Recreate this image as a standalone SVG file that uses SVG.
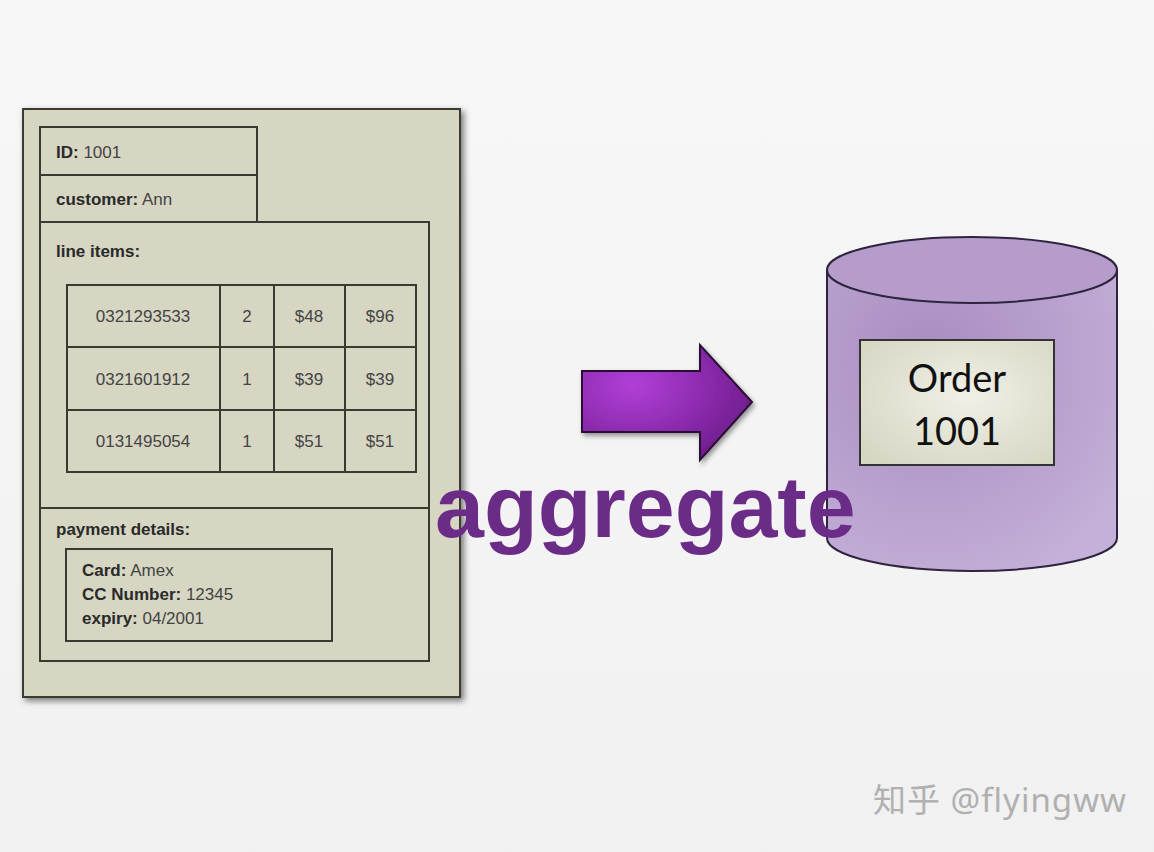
<svg xmlns="http://www.w3.org/2000/svg" width="1154" height="852" viewBox="0 0 1154 852">
<defs>
<linearGradient id="bg" x1="0" y1="0" x2="0" y2="1"><stop offset="0" stop-color="#f7f7f7"/><stop offset="1" stop-color="#f1f1f1"/></linearGradient>
<radialGradient id="arrowG" cx="0.3" cy="0.35" r="0.8"><stop offset="0" stop-color="#b23fd8"/><stop offset="1" stop-color="#6a1a88"/></radialGradient>
<radialGradient id="cylG" cx="0.35" cy="0.3" r="0.8"><stop offset="0" stop-color="#a88cc0"/><stop offset="1" stop-color="#c4b0d8"/></radialGradient>
<radialGradient id="boxG" cx="0.55" cy="0.45" r="0.7"><stop offset="0" stop-color="#f0f0e6"/><stop offset="1" stop-color="#d6d6c4"/></radialGradient>
<filter id="sh" x="-5%" y="-5%" width="115%" height="115%"><feDropShadow dx="3" dy="3" stdDeviation="3" flood-color="#000" flood-opacity="0.5"/></filter>
<filter id="ash" x="-10%" y="-10%" width="130%" height="130%"><feDropShadow dx="2" dy="3" stdDeviation="2.5" flood-color="#000" flood-opacity="0.4"/></filter>
<style>
.ln{fill:none;stroke:#3a3a30;stroke-width:2}
.t{font-family:"Liberation Sans",Arial,sans-serif;font-size:17px;fill:#444}
.b{font-weight:bold;fill:#2a2a2a}
.c{text-anchor:middle}
</style>
</defs>
<rect width="1154" height="852" fill="url(#bg)"/>
<g id="order-document">
<rect x="23" y="109" width="437" height="588" fill="#d6d6c3" stroke="#3a3a30" stroke-width="2" filter="url(#sh)"/>
<g id="id-field"><rect class="ln" x="40" y="127" width="217" height="48"/><text class="t" x="56" y="158"><tspan class="b">ID:</tspan> 1001</text></g>
<g id="customer-field"><rect class="ln" x="40" y="175" width="217" height="47"/><text class="t" x="56" y="205"><tspan class="b">customer:</tspan> Ann</text></g>
<g id="line-items"><rect class="ln" x="40" y="222" width="389" height="286"/><text class="t b" x="56" y="257">line items:</text>
<rect class="ln" x="67" y="285" width="349" height="187"/>
<path class="ln" d="M67 347H416M67 410H416M220 285V472M274 285V472M345 285V472"/>
<text class="t c" x="143" y="322">0321293533</text><text class="t c" x="247" y="322">2</text><text class="t c" x="309" y="322">$48</text><text class="t c" x="380" y="322">$96</text>
<text class="t c" x="143" y="385">0321601912</text><text class="t c" x="247" y="385">1</text><text class="t c" x="309" y="385">$39</text><text class="t c" x="380" y="385">$39</text>
<text class="t c" x="143" y="447">0131495054</text><text class="t c" x="247" y="447">1</text><text class="t c" x="309" y="447">$51</text><text class="t c" x="380" y="447">$51</text>
</g>
<g id="payment-details"><rect class="ln" x="40" y="508" width="389" height="153"/><text class="t b" x="56" y="535">payment details:</text>
<rect class="ln" x="66" y="549" width="266" height="92"/>
<text class="t" x="82" y="576"><tspan class="b">Card:</tspan> Amex</text>
<text class="t" x="82" y="600"><tspan class="b">CC Number:</tspan> 12345</text>
<text class="t" x="82" y="624"><tspan class="b">expiry:</tspan> 04/2001</text>
</g>
</g>
<g id="connectors">
<path d="M582 371H700V345L752 402L700 460V432H582Z" fill="url(#arrowG)" stroke="#2a1030" stroke-width="2" stroke-linejoin="miter" filter="url(#ash)"/>
</g>
<g id="database">
<path d="M827 270V538A145 33 0 0 0 1117 538V270Z" fill="url(#cylG)" stroke="#2e2440" stroke-width="2"/>
<ellipse cx="972" cy="270" rx="145" ry="33" fill="#b59ccb" stroke="#2e2440" stroke-width="2"/>
<g id="order-1001"><rect x="860" y="340" width="194" height="125" fill="url(#boxG)" stroke="#333" stroke-width="2"/>
<text x="957" y="392" font-family="Lato,'Open Sans',sans-serif" font-size="38" fill="#111" text-anchor="middle">Order</text>
<text x="957" y="445" font-family="Lato,'Open Sans',sans-serif" font-size="38" fill="#111" text-anchor="middle">1001</text></g>
</g>
<text id="aggregate-label" x="435" y="537" font-family="'Liberation Sans',Arial,sans-serif" font-weight="bold" font-size="88" fill="#6b2c88">aggregate</text>
<text x="873" y="812" font-family="'Noto Sans','Noto Sans CJK SC',sans-serif" font-size="33" letter-spacing="1" fill="#b0b0b0">知乎 @flyingww</text>
</svg>
